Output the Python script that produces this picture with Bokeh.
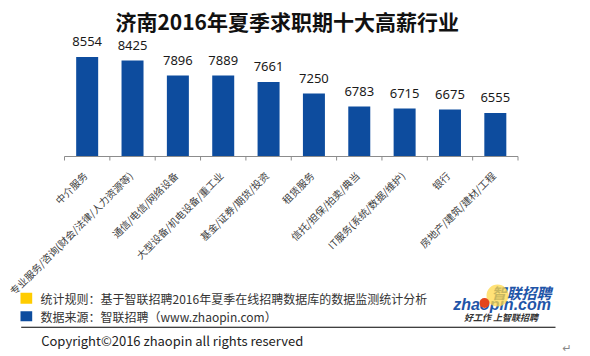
from math import pi
from bokeh.plotting import figure
from bokeh.models import (Range1d, ColumnDataSource, LabelSet, Label, BoxAnnotation)
from bokeh.core.properties import value
from bokeh.embed import file_html
from bokeh.resources import INLINE

# ---------------- data ----------------
categories = [
    "中介服务",
    "专业服务/咨询(财会/法律/人力资源等)",
    "通信/电信/网络设备",
    "大型设备/机电设备/重工业",
    "基金/证券/期货/投资",
    "租赁服务",
    "信托/担保/拍卖/典当",
    "IT服务(系统/数据/维护)",
    "银行",
    "房地产/建筑/建材/工程",
]
salaries = [8554, 8425, 7896, 7889, 7661, 7250, 6783, 6715, 6675, 6555]
axis_min = 5000

title_text = "济南2016年夏季求职期十大高薪行业"
note_rule = "统计规则：基于智联招聘2016年夏季在线招聘数据库的数据监测统计分析"
note_source = "数据来源：智联招聘（www.zhaopin.com）"
copyright_text = "Copyright©2016 zhaopin all rights reserved"

BAR = "#0D4C9E"
YELLOW = "#FFCC00"
AXIS = "#8c8c8c"
CJK = "Noto Sans CJK SC"

# ---------------- layout (pixels) ----------------
W, H = 590, 356
PLOT_L, PLOT_R, AXIS_Y = 64.0, 517.5, 156.0   # page pixels of the category band / baseline
PX_PER_UNIT = 0.02801                          # vertical pixels per salary unit

n = len(categories)
xu = (PLOT_R - PLOT_L) / n                     # pixels per category
centers = [i + 0.5 for i in range(n)]
edges = list(range(n + 1))

source = ColumnDataSource(dict(x=centers, cat=categories, val=salaries,
                               txt=[str(v) for v in salaries]))

p = figure(width=W, height=H, output_backend="svg", toolbar_location=None, tools="",
           x_range=Range1d(-PLOT_L / xu, (W - PLOT_L) / xu),
           y_range=Range1d(axis_min - (H - AXIS_Y) / PX_PER_UNIT,
                           axis_min + AXIS_Y / PX_PER_UNIT),
           x_axis_location=None, y_axis_location=None,
           min_border=0, min_border_left=0, min_border_right=0,
           min_border_top=0, min_border_bottom=0)
p.outline_line_color = None
p.xgrid.visible = False
p.ygrid.visible = False
p.background_fill_color = "white"
p.border_fill_color = "white"

# bars
p.vbar(x="x", top="val", bottom=axis_min, width=0.485, source=source,
       fill_color=BAR, line_color=None)

# category axis: baseline + boundary ticks
p.segment(x0=[edges[0]], x1=[edges[-1]], y0=[axis_min], y1=[axis_min],
          line_color=AXIS, line_width=1)
p.segment(x0=edges, x1=edges, y0=[axis_min] * len(edges),
          y1=[axis_min - 4 / PX_PER_UNIT] * len(edges), line_color=AXIS, line_width=1)

# category labels (rotated 45°)
p.text(x="x", y=axis_min, text="cat", source=source, angle=pi / 4,
       text_align="right", text_baseline="middle", x_offset=-2, y_offset=17,
       text_font=value(CJK), text_font_size="10px", text_color="#404040")

# value labels
p.add_layout(LabelSet(x="x", y="val", text="txt", source=source,
                      text_align="center", text_baseline="alphabetic",
                      y_offset=10.5, text_font=value("Noto Sans"),
                      text_font_size="13px", text_color="#1a1a1a"))


# helpers: page coords -> frame (screen) coords
def sx(x):
    return x


def sy(y):
    return H - y


def box(x0, y0, x1, y1, color, radius=0, alpha=1.0):
    p.add_layout(BoxAnnotation(left=sx(x0), right=sx(x1), top=sy(y0), bottom=sy(y1),
                               left_units="screen", right_units="screen",
                               top_units="screen", bottom_units="screen",
                               fill_color=color, fill_alpha=alpha, line_color=None,
                               border_radius=int(radius), level="overlay"))


def label(x, y, text, size, color="#333333", font=CJK, style="normal",
          align="left", baseline="middle"):
    p.add_layout(Label(x=sx(x), y=sy(y), x_units="screen", y_units="screen",
                       text=text, text_font=font, text_font_size=size,
                       text_font_style=style, text_color=color,
                       text_align=align, text_baseline=baseline))


# title
label(286.7, 20, title_text, "21px", "#111111", style="bold", align="center")

# notes
box(20, 292.3, 31.7, 303.3, YELLOW)
box(20, 310.7, 31.7, 320.7, BAR)
label(40, 297.5, note_rule, "12px", "#333333")
label(40, 316, note_source, "12px", "#333333")
box(20.7, 326.2, 555, 327.2, "#000000")
label(40.7, 339.5, copyright_text, "13px", "#222222")

# logo
box(486, 284, 508, 306, "#FFD84A", radius=11, alpha=0.75)
label(521, 292, "智联招聘", "15px", "#1F55A8", style="bold italic", align="center")
label(452.7, 303.5, "zhaopin.com", "16px", "#1F55A8", font="Liberation Sans",
      style="bold italic")
box(479, 297.5, 489, 307.5, "#E4461C", radius=5)
label(501.5, 316.7, "好工作  上智联招聘", "9px", "#333333", style="bold italic",
      align="center")
label(566.7, 348.3, "↵", "11px", "#888888", font="DejaVu Sans", align="center")

open("out.html", "w").write(file_html(p, INLINE))
